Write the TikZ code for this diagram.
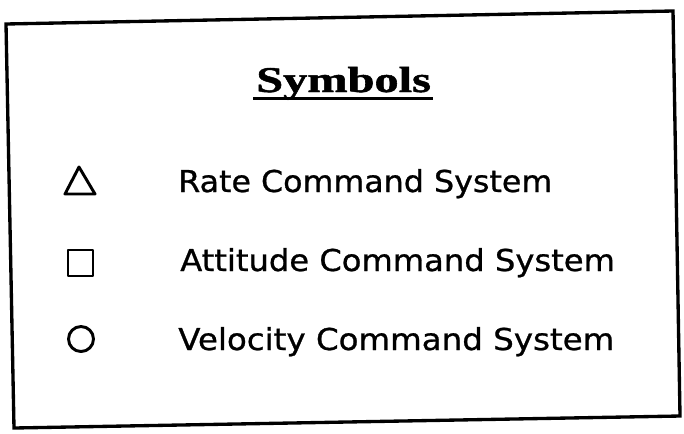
\documentclass[tikz,border=0pt]{standalone}
\usepackage{fontspec}
\usepackage{graphicx}
\newfontfamily\legendfont[FakeBold=0.8]{DejaVu Sans}
\newfontfamily\titlefont[FakeBold=1.2]{Liberation Serif}
% stretch a text horizontally to a given width, keeping its height
\newcommand{\stretchto}[2]{\resizebox{#1}{\height}{#2}}
\begin{document}
\begin{tikzpicture}[x=0.75pt,y=-0.75pt,
  frame/.style={line width=2.5pt,line join=miter},
  entry/.style={anchor=base west,inner sep=0pt,
    font=\legendfont\fontsize{22.6pt}{26pt}\selectfont},
  heading/.style={anchor=base west,inner sep=0pt,
    font=\titlefont\bfseries\fontsize{27.2pt}{30pt}\selectfont},
  glyph/.style={line width=2.2pt,line join=round}]
\useasboundingbox (0,0) rectangle (684,433);
\fill[white] (0,0) rectangle (684,433);

% outer frame, slightly skewed
\coordinate (tl) at (6,24);
\coordinate (tr) at (673,11);
\coordinate (br) at (680,416);
\coordinate (bl) at (14,428);
\draw[frame] (tl) -- (tr) -- (br) -- (bl) -- cycle;

% title, underlined
\node[heading] (title) at (256,92) {\stretchto{131pt}{Symbols}};
\coordinate (ulA) at (253,98.5);
\coordinate (ulB) at (433,98.5);
\draw[line width=2.2pt] (ulA) -- (ulB);

% rate command: triangle
\coordinate (t1) at (79,167);
\coordinate (t2) at (65,194);
\coordinate (t3) at (95,194);
\draw[glyph] (t1) -- (t2) -- (t3) -- cycle;
\node[entry] (rate) at (178,192) {\stretchto{280.5pt}{Rate Command System}};

% attitude command: square
\coordinate (s1) at (68,250);
\coordinate (s2) at (93,276);
\draw[glyph] (s1) rectangle (s2);
\node[entry] (att) at (180,271) {\stretchto{326pt}{Attitude Command System}};

% velocity command: circle
\coordinate (c1) at (81,339);
\draw[glyph] (c1) circle[radius=12.5];
\node[entry] (vel) at (178,350) {\stretchto{327pt}{Velocity Command System}};
\end{tikzpicture}
\end{document}
